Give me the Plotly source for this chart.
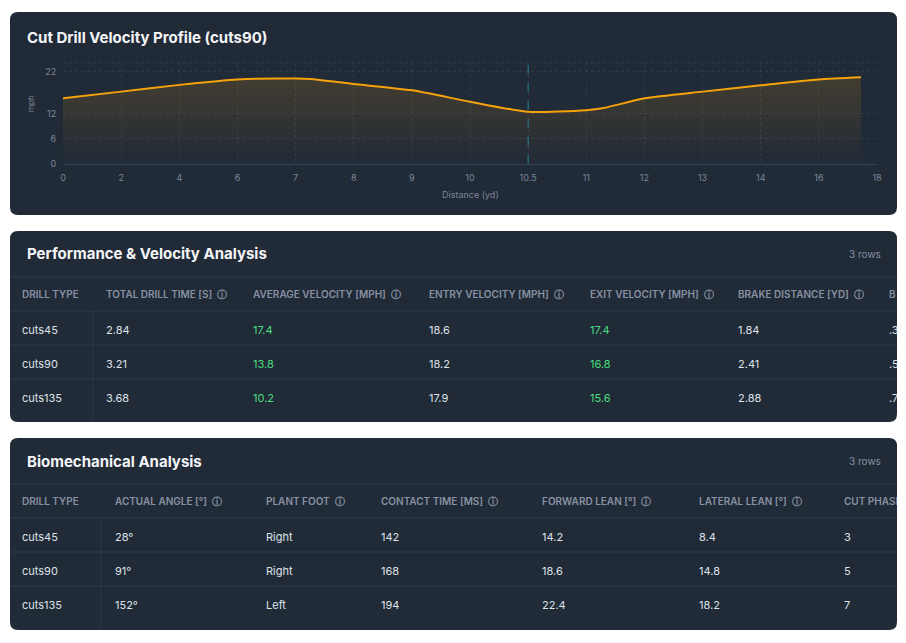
import plotly.graph_objects as go
import numpy as np

# velocity profile (cuts90)
tick_distances = [0, 2, 4, 6, 7, 8, 9, 10, 10.5, 11, 12, 13, 14, 16, 18]
tick_labels = ["0", "2", "4", "6", "7", "8", "9", "10", "10.5", "11", "12", "13", "14", "16", "18"]
distance_yd = [0, 2, 4, 6, 7, 7.25, 8, 9, 10, 10.5, 11, 11.3, 12, 13, 14, 16, 17.45]
velocity_mph = [15.6, 17.2, 18.8, 20.1, 20.3, 20.2, 19.0, 17.5, 14.8, 12.4, 12.8, 13.3, 15.6, 17.2, 18.7, 20.1, 20.6]
cut_distance = 10.5
y_ticks = [0, 6, 12, 22]

# performance table
drill_types = ["cuts45", "cuts90", "cuts135"]
total_drill_time = [2.84, 3.21, 3.68]
average_velocity = [17.4, 13.8, 10.2]
entry_velocity = [18.6, 18.2, 17.9]
exit_velocity = [17.4, 16.8, 15.6]
brake_distance = [1.84, 2.41, 2.88]
clipped_col = [".3", ".5", ".7"]

# biomechanical table
actual_angle = [28, 91, 152]
plant_foot = ["Right", "Right", "Left"]
contact_time = [142, 168, 194]
forward_lean = [14.2, 18.6, 22.4]
lateral_lean = [8.4, 14.8, 18.2]
cut_phase = [3, 5, 7]

W, H = 906, 643
CARD = "#212a37"
LINE = "rgba(255,255,255,0.07)"
HEAD = "#8791a3"
BODY = "#dde2e9"
GREEN = "#4ade80"
FONT = "Inter"


def fx(p):
    return p / W


def fy(p):
    return 1 - p / H


def card_path(x0, y0, x1, y1, r=8):
    rx, ry = r / W, r / H
    a, b, c, d = fx(x0), fy(y0), fx(x1), fy(y1)
    return (f"M{a + rx},{b} L{c - rx},{b} Q{c},{b} {c},{b - ry} "
            f"L{c},{d + ry} Q{c},{d} {c - rx},{d} L{a + rx},{d} "
            f"Q{a},{d} {a},{d + ry} L{a},{b - ry} Q{a},{b} {a + rx},{b} Z")


fig = go.Figure()

# ---- chart ----
xs = np.interp(distance_yd, tick_distances, range(len(tick_distances)))
fig.add_trace(go.Scatter(
    x=xs, y=velocity_mph, mode="lines",
    line=dict(color="#f5a20b", width=2, shape="spline", smoothing=0.6),
    fill="tozeroy",
    fillgradient=dict(type="vertical", start=0, stop=21,
                      colorscale=[[0, "rgba(245,162,11,0.0)"], [1, "rgba(245,162,11,0.16)"]]),
    hoverinfo="skip", showlegend=False, xaxis="x", yaxis="y",
))

cut_x = float(np.interp(cut_distance, tick_distances, range(len(tick_distances))))

shapes = []
for (y0, y1) in [(12, 215), (231, 422), (438, 630)]:
    shapes.append(dict(type="path", path=card_path(10, y0, 897, y1), xref="paper", yref="paper",
                       fillcolor=CARD, line=dict(width=0), layer="below"))

shapes.append(dict(type="line", xref="x", yref="y domain", x0=cut_x, x1=cut_x, y0=0, y1=1,
                   line=dict(color="rgba(34,190,220,0.55)", width=1, dash="dash")))
shapes.append(dict(type="line", xref="x domain", yref="y domain", x0=0, x1=1, y0=1, y1=1,
                   line=dict(color=LINE, width=1, dash="dot")))

annotations = [
    dict(text="Cut Drill Velocity Profile (cuts90)", x=fx(25), y=fy(38), xref="paper", yref="paper",
         xanchor="left", yanchor="middle", showarrow=False,
         font=dict(family=FONT, size=15, color="#f3f5f8", weight=700)),
    dict(text="Distance (yd)", x=fx(470), y=fy(195), xref="paper", yref="paper",
         xanchor="center", yanchor="middle",
         showarrow=False, font=dict(family=FONT, size=9, color="#7d8797")),
    dict(text="mph", x=fx(31), y=fy(104), xref="paper", yref="paper", textangle=-90,
         xanchor="center", yanchor="middle",
         showarrow=False, font=dict(family=FONT, size=8, color="#7d8797")),
]


# ---- tables ----
def add_table(ax, top, bottom, title, cols, first_w):
    # cols: list of (x, header, values, color)
    head_y = top + 64
    row_ys = [top + 100 + 34 * i for i in range(3)]
    for (x, header, values, color) in cols:
        fig.add_trace(go.Scatter(
            x=[x], y=[head_y], mode="text", text=[header], textposition="middle right",
            textfont=dict(family=FONT, size=10, color=HEAD, weight=600),
            cliponaxis=True, hoverinfo="skip", showlegend=False,
            xaxis="x" + ax, yaxis="y" + ax))
        fig.add_trace(go.Scatter(
            x=[x] * len(values), y=row_ys, mode="text", text=[str(v) for v in values],
            textposition="middle right",
            textfont=dict(family=FONT, size=11, color=color),
            cliponaxis=True, hoverinfo="skip", showlegend=False,
            xaxis="x" + ax, yaxis="y" + ax))
    annotations.append(dict(text=title, x=fx(25), y=fy(top + 23), xref="paper", yref="paper",
                            xanchor="left", yanchor="middle", showarrow=False,
                            font=dict(family=FONT, size=15, color="#f3f5f8", weight=700)))
    annotations.append(dict(text="3 rows", x=fx(883), y=fy(top + 23), xref="paper", yref="paper",
                            xanchor="right", yanchor="middle", showarrow=False,
                            font=dict(family=FONT, size=10, color=HEAD)))
    for yy in [top + 46, top + 80, top + 114, top + 148]:
        shapes.append(dict(type="line", xref="paper", yref="paper", x0=fx(10), x1=fx(897),
                           y0=fy(yy), y1=fy(yy), line=dict(color=LINE, width=1)))
    shapes.append(dict(type="line", xref="paper", yref="paper", x0=fx(first_w), x1=fx(first_w),
                       y0=fy(top + 80), y1=fy(bottom), line=dict(color="rgba(255,255,255,0.05)", width=1)))
    return dict(domain=[fx(10), fx(897)], range=[10, 897], visible=False, automargin=False,
                anchor="y" + ax), \
        dict(domain=[fy(bottom), fy(top)], range=[bottom, top], visible=False, automargin=False,
             anchor="x" + ax)


ico = "  ⓘ"
xa2, ya2 = add_table("2", 231, 422, "Performance & Velocity Analysis", [
    (22, "DRILL TYPE", drill_types, BODY),
    (106, "TOTAL DRILL TIME [S]" + ico, total_drill_time, BODY),
    (253, "AVERAGE VELOCITY [MPH]" + ico, average_velocity, GREEN),
    (429, "ENTRY VELOCITY [MPH]" + ico, entry_velocity, BODY),
    (590, "EXIT VELOCITY [MPH]" + ico, exit_velocity, GREEN),
    (738, "BRAKE DISTANCE [YD]" + ico, brake_distance, BODY),
    (889, "B", clipped_col, BODY),
], 93)

xa3, ya3 = add_table("3", 438, 630, "Biomechanical Analysis", [
    (22, "DRILL TYPE", drill_types, BODY),
    (115, "ACTUAL ANGLE [°]" + ico, [f"{a}°" for a in actual_angle], BODY),
    (266, "PLANT FOOT" + ico, plant_foot, BODY),
    (381, "CONTACT TIME [MS]" + ico, contact_time, BODY),
    (542, "FORWARD LEAN [°]" + ico, forward_lean, BODY),
    (699, "LATERAL LEAN [°]" + ico, lateral_lean, BODY),
    (844, "CUT PHASE", cut_phase, BODY),
], 101)

fig.update_layout(
    width=W, height=H, margin=dict(l=0, r=0, t=0, b=0, pad=0, autoexpand=False),
    paper_bgcolor="white", plot_bgcolor="rgba(0,0,0,0)",
    font=dict(family=FONT),
    xaxis=dict(domain=[fx(63), fx(877)], range=[0, len(tick_distances) - 1],
               tickvals=list(range(len(tick_distances))), ticktext=tick_labels,
               showgrid=True, gridcolor=LINE, griddash="dot", zeroline=False,
               showline=True, linecolor="rgba(148,163,184,0.22)", automargin=False,
               ticks="outside", ticklen=5, tickcolor="rgba(0,0,0,0)",
               tickfont=dict(family=FONT, size=9, color="#7d8797"), anchor="y"),
    yaxis=dict(domain=[fy(164), fy(63)], range=[0, 24], tickvals=y_ticks,
               showgrid=True, gridcolor=LINE, griddash="dot", zeroline=False, automargin=False,
               ticks="outside", ticklen=4, tickcolor="rgba(0,0,0,0)",
               tickfont=dict(family=FONT, size=9, color="#7d8797"), anchor="x"),
    xaxis2=xa2, yaxis2=ya2, xaxis3=xa3, yaxis3=ya3,
    shapes=shapes, annotations=annotations,
)

# pin the figure to the window origin with no page margin or scrollbars
page_fix = ("document.body.style.margin='0';"
            "document.body.style.overflow='hidden';"
            "document.documentElement.style.overflow='hidden';")
fig.write_html("out.html", config={"displayModeBar": False}, post_script=page_fix)
